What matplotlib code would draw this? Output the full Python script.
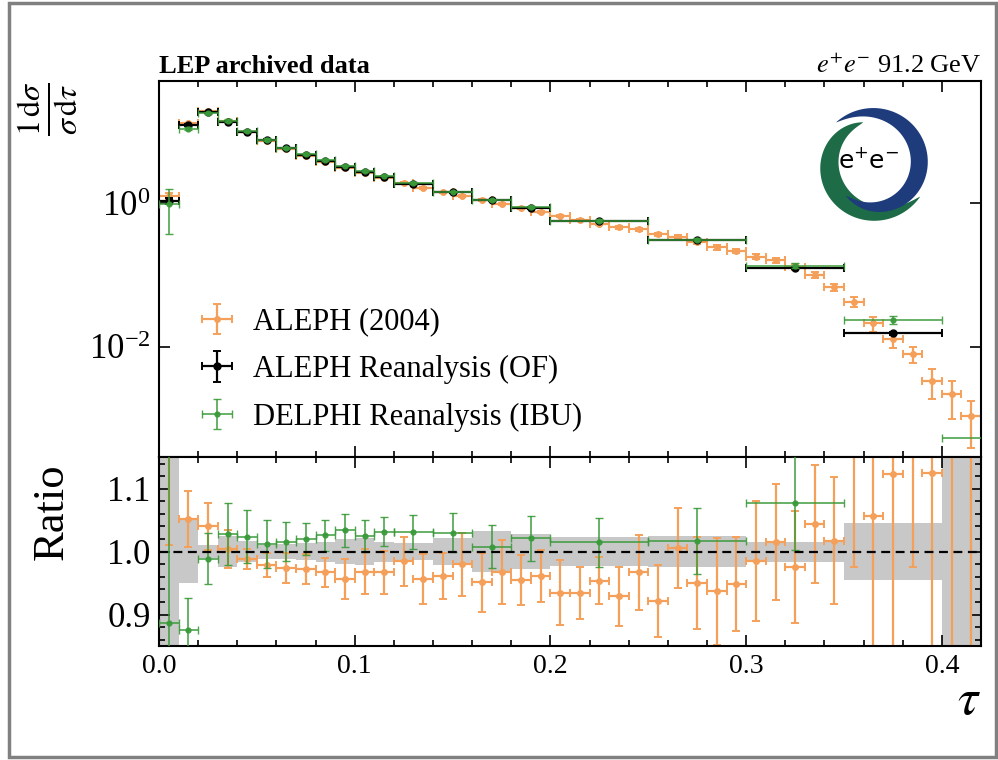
import numpy as np
import matplotlib
matplotlib.use("Agg")
import matplotlib.pyplot as plt
from matplotlib.patches import Polygon, Rectangle
from matplotlib.ticker import MultipleLocator, NullLocator, FixedLocator, FormatStrFormatter

plt.rcParams['font.family'] = 'serif'
plt.rcParams['font.serif'] = ['Liberation Serif', 'DejaVu Serif']
plt.rcParams['mathtext.fontset'] = 'stix'

# ---------------- data ----------------
# ALEPH (2004): 0.01-wide bins from 0 to 0.42
aleph04_edges = [round(0.01 * i, 2) for i in range(43)]
aleph04_vals = [1.26, 13.0, 19.1, 13.8, 9.85, 7.48, 5.70, 4.59, 3.76, 3.10,
                2.67, 2.27, 1.90, 1.62, 1.42, 1.28, 1.11, 0.98, 0.85, 0.76,
                0.671, 0.585, 0.52, 0.463, 0.433, 0.369, 0.342, 0.29, 0.243, 0.216,
                0.180, 0.162, 0.13, 0.100, 0.0673, 0.0425, 0.0212, 0.0127, 0.0079, 0.00336,
                0.00219, 0.00109]
aleph04_errs = [0.15, 0.3, 0.4, 0.3, 0.2, 0.15, 0.12, 0.1, 0.08, 0.07,
                0.06, 0.05, 0.05, 0.045, 0.04, 0.04, 0.035, 0.03, 0.028, 0.025,
                0.025, 0.022, 0.02, 0.02, 0.02, 0.018, 0.018, 0.017, 0.016, 0.015,
                0.014, 0.013, 0.012, 0.01, 0.008, 0.007, 0.005, 0.003, 0.002, 0.0015,
                0.0012, 0.0007]
aleph04_ratio = [1.16, 1.052, 1.040, 1.004, 0.988, 0.979, 0.974, 0.972, 0.967, 0.957,
                 0.968, 0.967, 0.985, 0.957, 0.961, 0.980, 0.951, 0.968, 0.955, 0.961,
                 0.935, 0.934, 0.954, 0.929, 0.967, 0.922, 1.006, 0.950, 0.937, 0.949,
                 0.985, 1.015, 0.975, 1.044, 1.017, 1.25, 1.057, 1.123, 1.20, 1.125,
                 1.30, 1.30]
aleph04_ratio_err = [0.15, 0.045, 0.038, 0.03, 0.016, 0.019, 0.024, 0.024, 0.023, 0.032,
                     0.036, 0.034, 0.039, 0.040, 0.037, 0.050, 0.047, 0.051, 0.040, 0.041,
                     0.052, 0.041, 0.037, 0.047, 0.060, 0.057, 0.064, 0.073, 0.085, 0.075,
                     0.096, 0.092, 0.089, 0.094, 0.101, 0.274, 0.25, 0.30, 0.225, 0.30,
                     0.6, 0.6]

# ALEPH Reanalysis (OF)
reana_edges = [0.0, 0.01, 0.02, 0.03, 0.04, 0.05, 0.06, 0.07, 0.08, 0.09, 0.10,
               0.11, 0.12, 0.14, 0.16, 0.18, 0.20, 0.25, 0.30, 0.35, 0.40]
reana_vals = [1.09, 12.4, 18.4, 13.7, 9.97, 7.64, 5.85, 4.72, 3.89, 3.24,
              2.76, 2.35, 1.86, 1.42, 1.10, 0.86, 0.566, 0.305, 0.126, 0.0154]
reana_errs = [0.1, 0.3, 0.3, 0.2, 0.15, 0.1, 0.08, 0.06, 0.05, 0.05,
              0.04, 0.03, 0.02, 0.02, 0.02, 0.015, 0.01, 0.006, 0.003, 0.0008]
# uncertainty band of the reference (last bin 0.40-0.45)
band_edges = reana_edges + [0.45]
band_err = [1.0, 0.05, 0.01, 0.025, 0.017, 0.011, 0.012, 0.014, 0.016, 0.02,
            0.021, 0.016, 0.013, 0.022, 0.033, 0.028, 0.023, 0.025, 0.016, 0.045, 1.0]

# DELPHI Reanalysis (IBU)
delphi_edges = reana_edges + [0.45]
delphi_vals = [0.97, 10.9, 18.2, 14.1, 10.2, 7.73, 5.94, 4.81, 3.99, 3.35,
               2.83, 2.43, 1.92, 1.46, 1.11, 0.878, 0.575, 0.310, 0.136, 0.0236, 0.00054]
delphi_errs = [0.6, 0.5, 0.6, 0.6, 0.4, 0.3, 0.2, 0.13, 0.1, 0.09,
               0.07, 0.06, 0.05, 0.045, 0.04, 0.03, 0.022, 0.016, 0.01, 0.003, 0.0002]
delphi_ratio = [0.887, 0.876, 0.989, 1.028, 1.024, 1.012, 1.016, 1.020, 1.026, 1.034,
                1.025, 1.032, 1.032, 1.030, 1.008, 1.021, 1.015, 1.017, 1.077, 1.53]
delphi_ratio_err = [0.55, 0.05, 0.04, 0.05, 0.042, 0.038, 0.031, 0.026, 0.025, 0.026,
                    0.026, 0.023, 0.027, 0.031, 0.034, 0.036, 0.039, 0.052, 0.075, 0.2]

ORANGE = '#f5a05a'
GREEN = '#3a9a3a'

def centers(edges):
    e = np.asarray(edges)
    return 0.5 * (e[1:] + e[:-1]), 0.5 * (e[1:] - e[:-1])

fig = plt.figure(figsize=(9.98, 7.6), dpi=100)
W, H = 998, 760
axl, axr = 159 / W, 981 / W
ax = fig.add_axes([axl, 1 - 457.3 / H, axr - axl, (457.3 - 80.7) / H])
rax = fig.add_axes([axl, 1 - 646 / H, axr - axl, (646 - 457.3) / H], sharex=ax)

# ---------------- main panel ----------------
xo, wo = centers(aleph04_edges)
xr, wr = centers(reana_edges)
xd, wd = centers(delphi_edges)

ax.errorbar(xo, aleph04_vals, yerr=aleph04_errs, xerr=wo, fmt='o', color=ORANGE,
            ms=4, lw=1.6, capsize=3, capthick=1.4, label='ALEPH (2004)', zorder=2)
ax.errorbar(xr, reana_vals, yerr=reana_errs, xerr=wr, fmt='o', color='black',
            ms=5, lw=1.6, capsize=3, capthick=1.4, label='ALEPH Reanalysis (OF)', zorder=3)
ax.errorbar(xd, delphi_vals, yerr=delphi_errs, xerr=wd, fmt='o', color=GREEN,
            ms=3.5, lw=1.2, capsize=3, capthick=1.0, alpha=0.9,
            label='DELPHI Reanalysis (IBU)', zorder=4)

ax.set_yscale('log')
ax.set_ylim(2.9e-4, 51)
ax.set_xlim(0, 0.42)
ax.yaxis.set_major_locator(FixedLocator([1e-2, 1e0]))
ax.yaxis.set_minor_locator(NullLocator())
ax.xaxis.set_major_locator(MultipleLocator(0.1))
ax.xaxis.set_minor_locator(MultipleLocator(0.02))
ax.tick_params(axis='x', labelbottom=False)

ax.set_ylabel(r'$\frac{1\,\mathrm{d}\sigma}{\sigma\,\mathrm{d}\tau}$', fontsize=33,
              loc='top', rotation=90)
ax.yaxis.set_label_coords(-0.096, 1.0)

ax.text(0.0, 1.008, 'LEP archived data', transform=ax.transAxes, fontsize=19,
        fontweight='bold', ha='left', va='bottom')
ax.text(1.0, 1.008, r'$e^{+}e^{-}$ 91.2 GeV', transform=ax.transAxes, fontsize=19,
        ha='right', va='bottom')

leg = ax.legend(loc='lower left', bbox_to_anchor=(0.035, 0.036), frameon=False,
                fontsize=22, handlelength=1.1, handletextpad=0.65, labelspacing=0.6,
                borderaxespad=0)

# ---------------- ratio panel ----------------
be = np.asarray(band_edges)
rax.bar(be[:-1], 2 * np.asarray(band_err), bottom=1 - np.asarray(band_err),
        width=np.diff(be), align='edge', color='#c8c8c8', lw=0, zorder=1)
rax.axhline(1.0, color='black', ls='--', lw=1.6, dashes=(4, 2.5), zorder=5)
rax.errorbar(xo, aleph04_ratio, yerr=aleph04_ratio_err, xerr=wo, fmt='o', color=ORANGE,
             ms=4, lw=1.6, capsize=3, capthick=1.4, zorder=2)
xdr, wdr = centers(reana_edges)
rax.errorbar(xdr, delphi_ratio, yerr=delphi_ratio_err, xerr=wdr, fmt='o', color=GREEN,
             ms=3.5, lw=1.2, capsize=3, capthick=1.0, alpha=0.9, zorder=4)
rax.set_ylim(0.85, 1.15)
rax.set_xlim(0, 0.42)
rax.yaxis.set_major_locator(FixedLocator([0.9, 1.0, 1.1]))
rax.yaxis.set_minor_locator(MultipleLocator(0.02))
rax.yaxis.set_major_formatter(FormatStrFormatter('%.1f'))
rax.xaxis.set_major_formatter(FormatStrFormatter('%.1f'))
rax.set_ylabel('Ratio', fontsize=32)
rax.yaxis.set_label_coords(-0.106, 0.712)
rax.set_xlabel(r'$\tau$', fontsize=37, loc='right')
rax.xaxis.set_label_coords(1.0, -0.17)

for a in (ax, rax):
    a.tick_params(which='both', direction='in', top=True, right=True, width=1.2)
    a.tick_params(which='major', length=8)
    a.tick_params(which='minor', length=4)
    a.tick_params(axis='y', labelsize=25, pad=6)
    a.tick_params(axis='x', labelsize=20, pad=6)
    for s in a.spines.values():
        s.set_linewidth(1.5)

# ---------------- logo ----------------
lax = fig.add_axes([873.5 / W - 70 / W, 1 - 164 / H - 70 / H, 140 / W, 140 / H])
lax.set_xlim(-70, 70)
lax.set_ylim(-70, 70)
lax.set_aspect('equal')
lax.axis('off')

def crescent(t1, t2, R, tmax, sh0, sh1, color):
    s = np.linspace(0, 1, 300)
    th = np.radians(t1 + (t2 - t1) * s)
    t = tmax * np.sin(np.pi * s) ** 0.8
    off = sh0 * (1 - s) ** 3 + sh1 * s ** 3
    ro = R - off
    ri = ro - t
    xs = np.concatenate([ro * np.cos(th), (ri * np.cos(th))[::-1]])
    ys = np.concatenate([ro * np.sin(th), (ri * np.sin(th))[::-1]])
    lax.add_patch(Polygon(np.column_stack([xs, ys]), closed=True, color=color, lw=0))

crescent(104, 325, 57, 20, 14, 0, '#1d6b47')
crescent(132, -131, 56, 17, 0, 14, '#1e3c7c')
lax.text(-5, 3, r'$\mathrm{e^{+}e^{-}}$', math_fontfamily='dejavusans', fontsize=18,
         ha='center', va='center', color='black')

# ---------------- screenshot frame ----------------
fig.patches.append(Rectangle((9 / W, 3 / H), 987 / W, 754 / H, transform=fig.transFigure,
                             fill=False, ec='#808080', lw=2.5))

fig.savefig('out.png', dpi=100)
